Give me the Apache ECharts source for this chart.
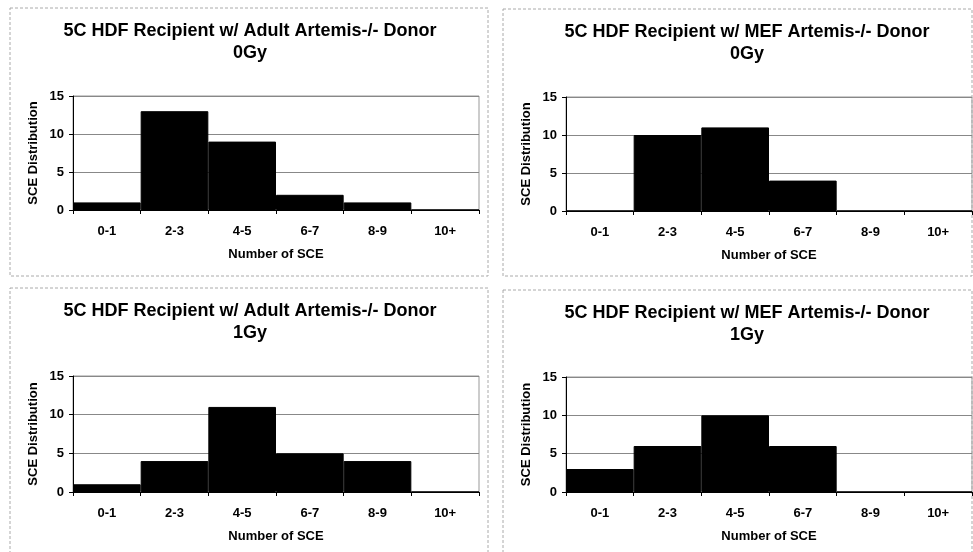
<!DOCTYPE html>
<html><head><meta charset="utf-8">
<script src="https://cdn.jsdelivr.net/npm/echarts@6/dist/echarts.min.js"></script>
<style>html,body{margin:0;padding:0;background:#fff}#c{width:973px;height:552px}</style>
</head><body><div id="c"></div>
<script>
const categories = ['0-1','2-3','4-5','6-7','8-9','10+'];
const adult0Gy = [1,13,9,2,1,0];
const mef0Gy   = [0,10,11,4,0,0];
const adult1Gy = [1,4,11,5,4,0];
const mef1Gy   = [3,6,10,6,0,0];
const yTicks = [0,5,10,15];
const panels = [
  {t1:'5C HDF Recipient w/ Adult Artemis-/- Donor', t2:'0Gy', data:adult0Gy},
  {t1:'5C HDF Recipient w/ MEF Artemis-/- Donor', t2:'0Gy', data:mef0Gy},
  {t1:'5C HDF Recipient w/ Adult Artemis-/- Donor', t2:'1Gy', data:adult1Gy},
  {t1:'5C HDF Recipient w/ MEF Artemis-/- Donor', t2:'1Gy', data:mef1Gy}
];
const layout = [
  {grid:{left:73,top:96,width:406,height:114}, tx:250, ty:31, box:[10,8,478,268]},
  {grid:{left:566,top:97,width:406,height:114}, tx:747, ty:32, box:[503,9,469,267]},
  {grid:{left:73,top:376,width:406,height:116}, tx:250, ty:311, box:[10,288,478,270]},
  {grid:{left:566,top:377,width:406,height:115}, tx:747, ty:313, box:[503,290,469,270]}
];
const font = 'Liberation Sans, Arial, sans-serif';
const grids=[], xAxes=[], yAxes=[], series=[], graphics=[];
panels.forEach((p,i)=>{
  const L = layout[i];
  grids.push(Object.assign({show:true, borderColor:'#999', borderWidth:1}, L.grid));
  xAxes.push({type:'category', gridIndex:i, data:categories, boundaryGap:true,
    name:'Number of SCE', nameLocation:'middle', nameGap:38,
    nameTextStyle:{fontFamily:font, fontWeight:'bold', fontSize:13, color:'#000'},
    axisLine:{lineStyle:{color:'#000', width:1}},
    axisTick:{show:true, length:4, inside:false, lineStyle:{color:'#000'}},
    axisLabel:{fontFamily:font, fontWeight:'bold', fontSize:13, color:'#000', margin:15, interval:0},
    splitLine:{show:false}});
  yAxes.push({type:'value', gridIndex:i, min:yTicks[0], max:yTicks[yTicks.length-1], interval:5,
    name:'SCE Distribution', nameLocation:'middle', nameGap:33,
    nameTextStyle:{fontFamily:font, fontWeight:'bold', fontSize:13, color:'#000'},
    axisLine:{show:true, lineStyle:{color:'#000', width:1}},
    axisTick:{show:true, length:4, lineStyle:{color:'#000'}},
    axisLabel:{fontFamily:font, fontWeight:'bold', fontSize:13, color:'#000', margin:9},
    splitLine:{show:true, lineStyle:{color:'#888', width:1}}});
  series.push({type:'bar', xAxisIndex:i, yAxisIndex:i, data:p.data, barCategoryGap:0,
    itemStyle:{color:'#000', borderColor:'#000', borderWidth:1}, silent:true, animation:false});
  const b = L.box;
  graphics.push({type:'rect', shape:{x:b[0], y:b[1], width:b[2], height:b[3]},
    style:{fill:'none', stroke:'#aaa', lineWidth:1, lineDash:[3,2]}, silent:true});
  graphics.push({type:'text', x:L.tx, y:L.ty, style:{text:p.t1, fontFamily:font, fontWeight:'bold', fontSize:18, fill:'#000', align:'center', verticalAlign:'middle'}});
  graphics.push({type:'text', x:L.tx, y:L.ty+22, style:{text:p.t2, fontFamily:font, fontWeight:'bold', fontSize:18, fill:'#000', align:'center', verticalAlign:'middle'}});
});
const chart = echarts.init(document.getElementById('c'), null, {renderer:'canvas'});
chart.setOption({animation:false, backgroundColor:'#fff', grid:grids, xAxis:xAxes, yAxis:yAxes, series:series, graphic:graphics});
</script></body></html>
